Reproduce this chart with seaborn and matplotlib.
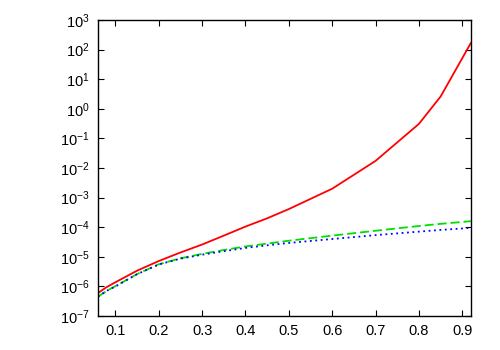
import pandas as pd
import matplotlib
matplotlib.use("Agg")
import matplotlib.pyplot as plt
import matplotlib.ticker as mticker
import seaborn as sns

# values (log y axis)
x = [0.06, 0.08, 0.10, 0.15, 0.20, 0.25, 0.30, 0.35, 0.40, 0.45, 0.50,
     0.60, 0.70, 0.80, 0.85, 0.92]
red = [6.0e-7, 9.5e-7, 1.38e-6, 3.4e-6, 7.2e-6, 1.4e-5, 2.6e-5, 5.2e-5,
       1.05e-4, 2.0e-4, 4.1e-4, 2.0e-3, 1.74e-2, 0.31, 2.6, 170]
green = [4.5e-7, 7.1e-7, 1.02e-6, 2.6e-6, 5.6e-6, 8.9e-6, 1.26e-5, 1.7e-5,
         2.24e-5, 2.8e-5, 3.5e-5, 5.2e-5, 7.6e-5, 1.1e-4, 1.3e-4, 1.6e-4]
blue = [4.5e-7, 7.1e-7, 1.0e-6, 2.6e-6, 5.5e-6, 8.7e-6, 1.18e-5, 1.55e-5,
        2.0e-5, 2.45e-5, 2.95e-5, 4.0e-5, 5.4e-5, 7.1e-5, 8.1e-5, 9.5e-5]

df = pd.DataFrame({"x": x, "red": red, "green": green, "blue": blue})

sns.set_style("ticks")
plt.rcParams["font.family"] = ["Liberation Sans", "DejaVu Sans"]
plt.rcParams["mathtext.default"] = "regular"

fig = plt.figure(figsize=(5, 3.5), dpi=100)
ax = fig.add_axes([0.196, 0.097, 0.746, 0.846])

sns.lineplot(data=df, x="x", y="red", ax=ax, color="#ff0000", lw=1.3)
sns.lineplot(data=df, x="x", y="green", ax=ax, color="#00e000", lw=1.3,
             linestyle=(0, (5, 2.2)))
sns.lineplot(data=df, x="x", y="blue", ax=ax, color="#0000ff", lw=1.3,
             linestyle=(0, (1, 2)))

ax.set_yscale("log")
ax.set_xlim(0.06, 0.92)
ax.set_ylim(1e-7, 1e3)
ax.set_xticks([0.1, 0.2, 0.3, 0.4, 0.5, 0.6, 0.7, 0.8, 0.9])
ax.set_yticks([10.0 ** k for k in range(-7, 4)])
ax.yaxis.set_minor_locator(mticker.NullLocator())
ax.set_xlabel("")
ax.set_ylabel("")

for s in ax.spines.values():
    s.set_visible(True)
    s.set_color("black")
    s.set_linewidth(1.0)
ax.tick_params(direction="in", top=True, right=True, length=4, width=0.8,
               labelsize=10.5, colors="black", pad=6)

fig.savefig("out.png", dpi=100)
